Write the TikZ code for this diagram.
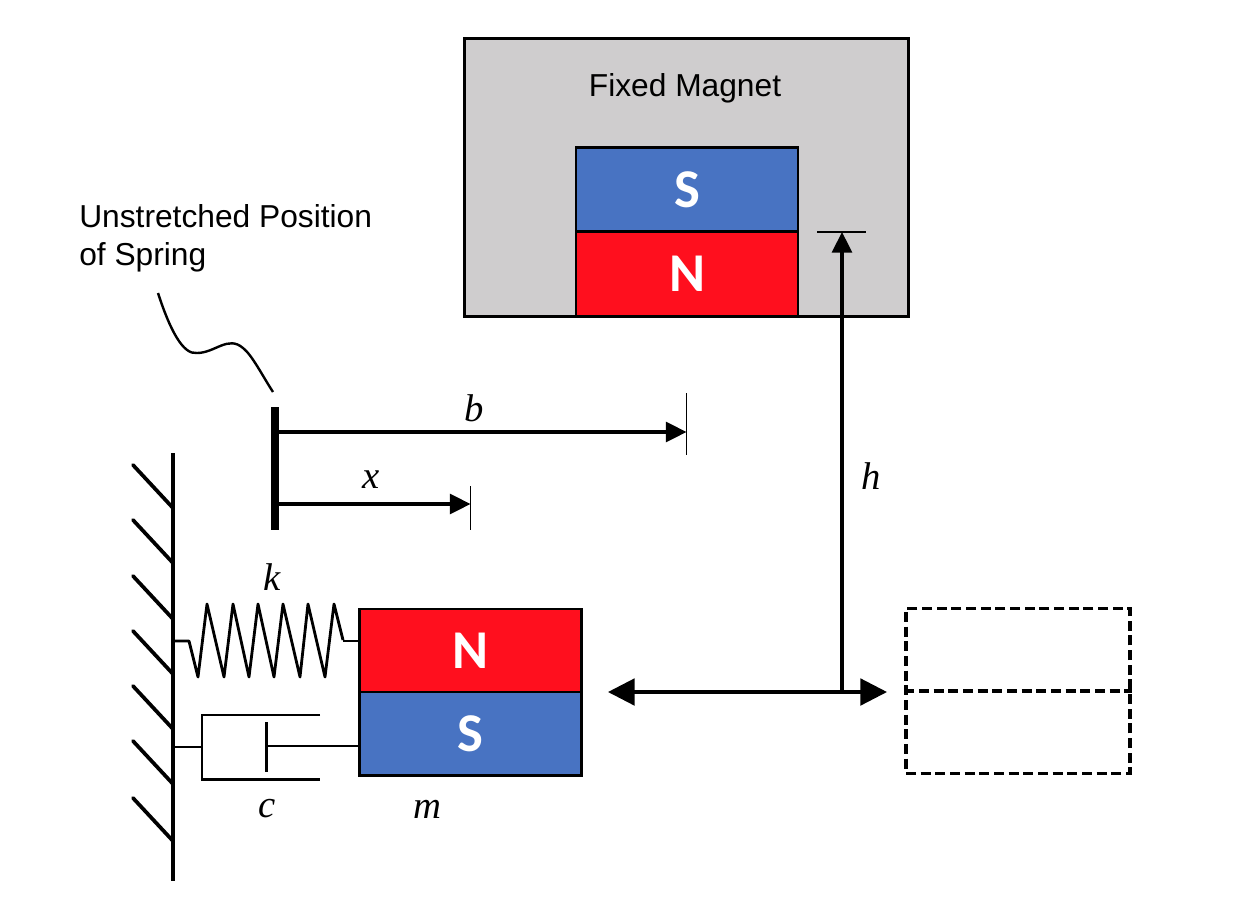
\documentclass[tikz,border=0pt]{standalone}
\usepackage{fontspec}
\setmainfont{Liberation Sans}
\newfontfamily\polefont{Carlito}
\newfontfamily\mathfont{Liberation Serif}
\usetikzlibrary{arrows.meta,positioning}
\definecolor{magred}{HTML}{FF0F1E}
\definecolor{magblue}{HTML}{4873C2}
\definecolor{maggray}{HTML}{CFCDCE}
\newcommand{\poleletter}[1]{\raisebox{-2.2pt}{#1}}
\tikzset{
  px/.style={x=0.75pt,y=-0.75pt},
  magnet/.style={draw=black,line width=2.2pt,minimum width=166.5pt,minimum height=62.3pt,inner sep=0pt,text=white,font=\polefont\bfseries\fontsize{41}{41}\selectfont},
  north/.style={magnet,fill=magred},
  south/.style={magnet,fill=magblue},
  ghost/.style={draw=black,line width=2.5pt,dash pattern=on 7.5pt off 3.5pt,minimum width=168pt,minimum height=123.5pt,inner sep=0pt},
  ghostline/.style={line width=2.5pt,dash pattern=on 7.5pt off 3.5pt},
  housing/.style={draw=black,line width=2.2pt,fill=maggray,minimum width=333pt,minimum height=208.5pt,inner sep=0pt},
  sym/.style={inner sep=0pt,font=\mathfont\itshape\fontsize{29}{29}\selectfont},
  lab/.style={inner sep=0pt,font=\fontsize{23.8}{28.6}\selectfont,align=left},
  wire/.style={line width=2.1pt,line cap=butt},
  thick wire/.style={line width=2.8pt},
  arr/.style={line width=2.4pt,-{Triangle[length=15.5pt,width=15pt]}},
  harr/.style={line width=2.4pt,{Triangle[length=20pt,width=20pt]}-{Triangle[length=20pt,width=20pt]}},
  tick/.style={line width=1pt},
}
\begin{document}
\begin{tikzpicture}[px]
\useasboundingbox (0,0) rectangle (1246,904);
% housing and fixed magnet
\node[housing] (housing) at (686.5,177.5) {};
\node[south,minimum height=63.4pt] (fs) at (687,189.5) {\poleletter{S}};
\node[north,minimum height=63pt] (fn) at (687,274) {\poleletter{N}};
\node[inner sep=0pt,font=\fontsize{23.8}{28.6}\selectfont] (fixed) at (685,88.5) {Fixed Magnet};
% moving magnet
\node[north] (mn) at (470.5,650.5) {\poleletter{N}};
\node[south] (ms) at (470.5,733.5) {\raisebox{-1pt}{S}};
% ghost
\node[ghost] (gt) at (1018,691) {};
\draw[ghostline] (gt.west) -- (gt.east);
% wall
\coordinate (wt) at (173,453);
\coordinate (wb) at (173,881);
\draw[thick wire] (wt) -- (wb);
\foreach \y in {465,520,576,631,686,741,798}
  \draw[thick wire,line cap=round] (133,\y) -- (173,\y+43);
% spring
\coordinate (sa) at (173,641);
\coordinate (sb) at (mn.west |- 0,641);
\draw[wire,line join=round] (sa) -- (189,641) -- (198,677) -- (207,604) -- (224,677) -- (233,604) -- (249,677) -- (258,604) -- (274,677) -- (283,604) -- (300,677) -- (308,604) -- (325,677) -- (334,604) -- (343,640);
\draw[wire] (343,641) -- (sb);
% damper
\coordinate (da) at (173,747);
\coordinate (db) at (mn.west |- 0,746);
\coordinate (dc) at (202,747);
\draw[wire] (da) -- (dc);
\draw[wire] (320,715) -- (202,715) -- (202,779.5) -- (320,779.5);
\coordinate (dp) at (266.5,746);
\draw[wire] (266.5,722) -- (266.5,772);
\draw[wire] (dp) -- (ms.west |- dp);
% unstretched bar
\coordinate (bt) at (275,407);
\coordinate (bb) at (275,530);
\draw[line width=5.5pt] (bt) -- (bb);
% leader
\draw[line width=1.8pt] (158,293) .. controls (170,330) and (183,355) .. (197,353) .. controls (215,353) and (228,335) .. (243,348) .. controls (252,355) and (262,375) .. (273,392);
\node[lab,anchor=north west] (unst) at (79,204) {Unstretched Position\\of Spring};
% b and x
\coordinate (be) at (686.5,432);
\coordinate (xe) at (470.5,504);
\draw[arr] (bt |- be) -- (be);
\draw[arr] (bb |- xe) -- (xe);
\draw[tick] (686.5,393) -- (686.5,455);
\draw[tick] (470.5,486) -- (470.5,530);
% h
\coordinate (hb) at (842,691);
\coordinate (ht) at (842,232);
\draw[arr] (hb) -- (ht);
\draw[tick] (817,232) -- (866,232);
% horizontal travel
\coordinate (tl) at (608,692);
\coordinate (tr) at (887,692);
\draw[harr] (tl) -- (tr);
% symbols
\node[sym] (symb) at (474,408) {b};
\node[sym] (symx) at (371,480) {x};
\node[sym] (symk) at (272,577) {k};
\node[sym] (symc) at (267,809) {c};
\node[sym] (symm) at (427,809) {m};
\node[sym] (symh) at (871,476) {h};
\end{tikzpicture}
\end{document}
